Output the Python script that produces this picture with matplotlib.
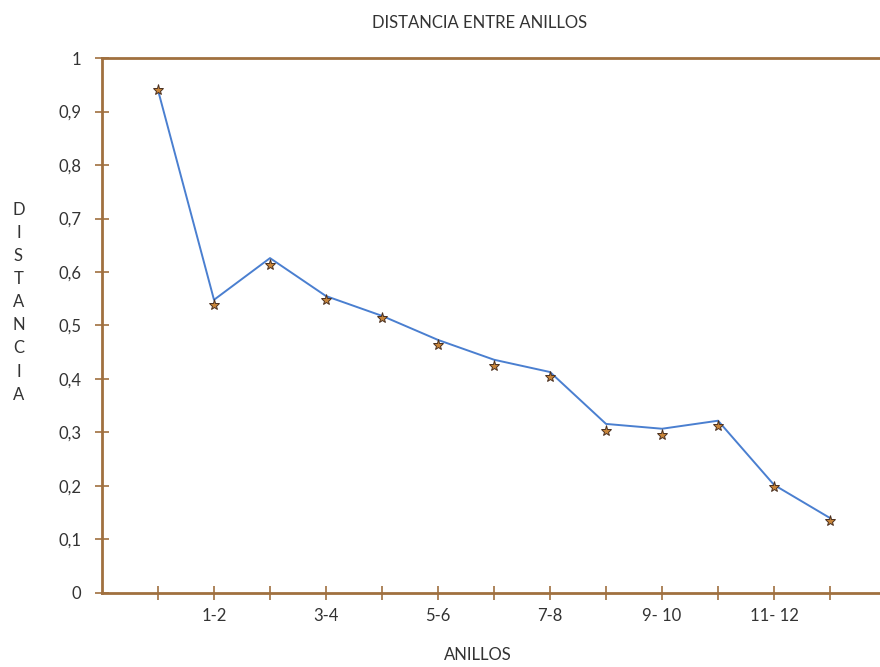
import numpy as np
import matplotlib.pyplot as plt

# ring pairs (1..13) and measured distance
rings = np.arange(1, 14)
line_vals = [0.94, 0.548, 0.626, 0.555, 0.518, 0.473, 0.436, 0.413,
             0.316, 0.307, 0.322, 0.202, 0.140]
star_vals = [0.94, 0.538, 0.613, 0.548, 0.514, 0.464, 0.424, 0.404,
             0.303, 0.295, 0.312, 0.198, 0.135]
xtick_labels = ['', '1-2', '', '3-4', '', '5-6', '', '7-8', '', '9- 10', '', '11- 12', '']
yticks = [0, 0.1, 0.2, 0.3, 0.4, 0.5, 0.6, 0.7, 0.8, 0.9, 1]
ytick_labels = ['0', '0,1', '0,2', '0,3', '0,4', '0,5', '0,6', '0,7', '0,8', '0,9', '1']

brown = '#a0703f'
txt = '#333333'
plt.rcParams['font.family'] = ['Lato', 'DejaVu Sans']

fig = plt.figure(figsize=(8.8, 6.67), dpi=100)
ax = fig.add_axes([0.1159, 0.111, 0.891, 0.802])

ax.plot(rings, line_vals, color='#4a7fd0', linewidth=1.4, zorder=2)
ax.plot(rings, star_vals, linestyle='none', marker='*', markersize=8,
        color='#c8853a', markeredgecolor='#4a3020', markeredgewidth=0.7, zorder=3)

ax.set_xlim(0, 14)
ax.set_ylim(0, 1)
ax.set_xticks(rings)
ax.set_xticklabels(xtick_labels)
ax.set_yticks(yticks)
ax.set_yticklabels(ytick_labels)

for s in ax.spines.values():
    s.set_color(brown)
    s.set_linewidth(2)
ax.spines['right'].set_visible(False)

ax.tick_params(axis='both', direction='inout', length=10, width=1.2,
               color=brown, labelcolor=txt, labelsize=12)
ax.tick_params(axis='x', pad=6)
ax.tick_params(axis='y', pad=10)

fig.text(0.545, 0.965, 'DISTANCIA ENTRE ANILLOS', ha='center', va='center',
         fontsize=12, color=txt)
fig.text(0.543, 0.018, 'ANILLOS', ha='center', va='center', fontsize=12, color=txt)
fig.text(0.021, 0.547, '\n'.join('DISTANCIA'), ha='center', va='center',
         fontsize=12, color=txt, linespacing=1.55)

fig.savefig('out.png', dpi=100)
